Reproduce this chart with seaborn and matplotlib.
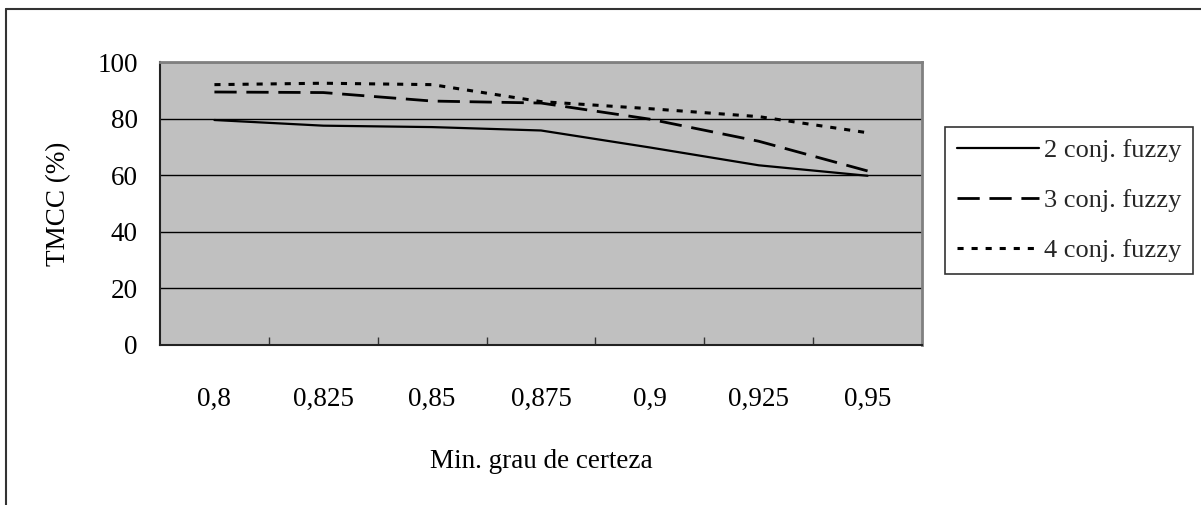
import matplotlib
matplotlib.use("Agg")
import matplotlib.pyplot as plt
from matplotlib.lines import Line2D
import seaborn as sns
import pandas as pd

categories = ["0,8", "0,825", "0,85", "0,875", "0,9", "0,925", "0,95"]
conj2 = [79.5, 77.5, 77, 75.8, 69.8, 63.5, 59.8]
conj3 = [89.4, 89.2, 86.2, 85.5, 79.8, 72, 61.5]
conj4 = [92, 92.5, 92, 86, 83.5, 80.7, 75]
series_names = ["2 conj. fuzzy", "3 conj. fuzzy", "4 conj. fuzzy"]
y_ticks = [0, 20, 40, 60, 80, 100]

sns.set_theme(style="white")
plt.rcParams["font.family"] = ["Liberation Serif", "DejaVu Serif"]

fig = plt.figure(figsize=(12.01, 5.05), dpi=100)
ax = fig.add_axes([160 / 1201, 1 - 345 / 505, (922 - 160) / 1201, (345 - 62) / 505])
ax.set_facecolor("#C0C0C0")

styles = [
    dict(linestyle="-", linewidth=1.6),
    dict(linestyle=(0, (8, 3.5)), linewidth=2.0),
    dict(linestyle=(0, (2.0, 2.6)), linewidth=2.2),
]
for name, vals, st in zip(series_names, [conj2, conj3, conj4], styles):
    df = pd.DataFrame({"x": categories, "y": vals})
    sns.lineplot(data=df, x="x", y="y", ax=ax, color="black", label=name,
                 sort=False, **st)

ax.set_xlim(-0.5, len(categories) - 0.5)
ax.set_ylim(0, 100)
ax.set_yticks(y_ticks)
ax.yaxis.grid(True, color="black", linewidth=1.0)
ax.set_axisbelow(True)
ax.tick_params(axis="y", length=0, pad=16, labelsize=19.5, colors="black")
ax.set_xticks(range(len(categories)))
ax.set_xticklabels(categories)
ax.set_xticks([i + 0.5 for i in range(len(categories) - 1)], minor=True)
ax.tick_params(axis="x", which="major", length=0, pad=30, labelsize=19.5, colors="black")
ax.tick_params(axis="x", which="minor", direction="in", length=6, width=1, color="#333333", bottom=True)

for side in ["top", "right"]:
    ax.spines[side].set_color("#808080")
    ax.spines[side].set_linewidth(2.0)
for side in ["left", "bottom"]:
    ax.spines[side].set_color("#222222")
    ax.spines[side].set_linewidth(1.5)

ax.set_xlabel("Min. grau de certeza", fontsize=19.5, labelpad=27, color="black")
ax.set_ylabel("TMCC (%)", fontsize=19.5, labelpad=19, color="black")

ax.get_legend().remove()
handles, labels = ax.get_legend_handles_labels()
leg = fig.legend(handles, labels, loc="upper left",
                 bbox_to_anchor=(945 / 1201, 1 - 127 / 505),
                 fontsize=19, frameon=True, fancybox=False, shadow=False,
                 handlelength=3.1, handletextpad=0.2, labelspacing=1.0,
                 borderpad=0.45, borderaxespad=0)
leg.get_frame().set_edgecolor("black")
leg.get_frame().set_linewidth(1.2)
leg.get_frame().set_facecolor("white")

# outer chart frame
fig.add_artist(Line2D([6 / 1201, 1.0], [1 - 9 / 505, 1 - 9 / 505],
                      transform=fig.transFigure, color="#333333", linewidth=1.5))
fig.add_artist(Line2D([6 / 1201, 6 / 1201], [0, 1 - 9 / 505],
                      transform=fig.transFigure, color="#333333", linewidth=1.5))

fig.savefig("out.png", dpi=100, facecolor="white")
